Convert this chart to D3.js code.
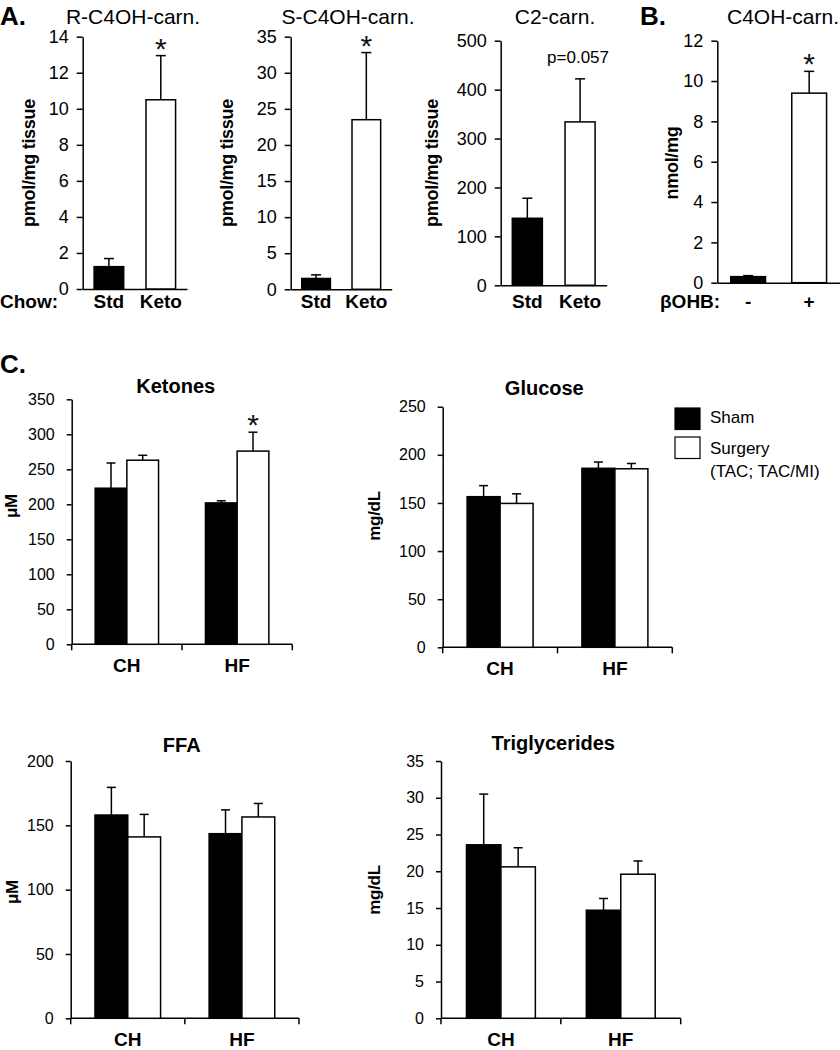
<!DOCTYPE html>
<html>
<head>
<meta charset="utf-8">
<script src="https://cdn.jsdelivr.net/npm/d3@7"></script>
<style>
  body { margin: 0; background: #fff; }
  svg { font-family: "Liberation Sans", Arial, sans-serif; }
  .axis path, .axis line { stroke: #000; stroke-width: 1.5; }
  .axis text { fill: #000; }
</style>
</head>
<body>
<svg id="chart" width="840" height="1050"></svg>
<script>
// ---- data ----
const chowGroups = ['Std', 'Keto']
const bohbGroups = ['-', '+']
const rC4OH = [1.24, 10.5]
const rC4OHErr = [0.45, 2.45]
const sC4OH = [1.5, 23.5]
const sC4OHErr = [0.5, 9.3]
const c2Carn = [137, 334]
const c2CarnErr = [41, 88]
const c4OH = [0.3, 9.4]
const c4OHErr = [0.05, 1.08]

const plasmaGroups = ['CH', 'HF']
const treatments = ['Sham', 'Surgery']
const ketonesSham = [223, 202]
const ketonesShamErr = [36, 3]
const ketonesSurgery = [263, 276]
const ketonesSurgeryErr = [7, 27]
const glucoseSham = [156.5, 186]
const glucoseShamErr = [11.5, 6.5]
const glucoseSurgery = [149.5, 185.5]
const glucoseSurgeryErr = [10, 5.5]
const ffaSham = [158, 143.5]
const ffaShamErr = [21.5, 18.5]
const ffaSurgery = [141, 156.5]
const ffaSurgeryErr = [17.5, 10.5]
const trigSham = [23.6, 14.7]
const trigShamErr = [6.9, 1.6]
const trigSurgery = [20.6, 19.6]
const trigSurgeryErr = [2.6, 1.8]

const svg = d3.select('#chart')
svg.append('rect').attr('width', 840).attr('height', 1050).attr('fill', '#fff')

const fill = d => d === 0 ? '#000' : '#fff'

function yAxisLabel(text, x, y, size) {
  svg.append('text')
    .attr('transform', `translate(${x},${y}) rotate(-90)`)
    .attr('text-anchor', 'middle')
    .style('font-size', size + 'px')
    .style('font-weight', 'bold')
    .style('letter-spacing', '-0.3px')
    .text(text)
}

function star(x, eTop) {
  // centred about 14px above the top of the error bar
  svg.append('text')
    .attr('x', x)
    .attr('y', eTop + 3)
    .attr('text-anchor', 'middle')
    .style('font-size', '30px')
    .style('fill', '#111')
    .text('*')
}

// ---- panels A and B: two bars each ----
function simplePanel(p) {
  const x = d3.scaleBand()
    .domain(p.groups)
    .range([p.left, p.right])
    .paddingInner(0.43)
    .paddingOuter(0.22)
  const y = d3.scaleLinear()
    .domain([0, p.max])
    .range([p.bottom, p.top])

  const yAxis = d3.axisLeft(y)
    .tickValues(d3.range(0, p.max + p.step / 2, p.step))
    .tickSizeInner(6)
    .tickSizeOuter(0)
    .tickPadding(8)
  const yg = svg.append('g')
    .attr('class', 'axis')
    .attr('transform', `translate(${p.left},0)`)
    .call(yAxis)
  yg.selectAll('text').style('font-size', '18px')

  svg.append('g')
    .attr('class', 'axis')
    .attr('transform', `translate(0,${p.bottom})`)
    .call(d3.axisBottom(x).tickSize(0).tickFormat(''))

  p.values.forEach((v, i) => {
    const g = p.groups[i]
    const cx = x(g) + x.bandwidth() / 2
    const eTop = y(v + p.errs[i])
    svg.append('line')
      .attr('x1', cx).attr('x2', cx)
      .attr('y1', y(v)).attr('y2', eTop)
      .attr('stroke', '#000').attr('stroke-width', 1.5)
    svg.append('line')
      .attr('x1', cx - 5).attr('x2', cx + 5)
      .attr('y1', eTop).attr('y2', eTop)
      .attr('stroke', '#000').attr('stroke-width', 1.5)
    svg.append('rect')
      .attr('x', x(g))
      .attr('y', y(v))
      .attr('width', x.bandwidth())
      .attr('height', p.bottom - y(v))
      .attr('fill', fill(i))
      .attr('stroke', '#000')
      .attr('stroke-width', 1.5)
    if (p.stars[i]) star(cx, eTop)
    if (p.notes && p.notes[i]) {
      svg.append('text')
        .attr('x', cx - 2)
        .attr('y', eTop - 16)
        .attr('text-anchor', 'middle')
        .style('font-size', '17px')
        .text(p.notes[i])
    }
    svg.append('text')
      .attr('x', cx)
      .attr('y', 308)
      .attr('text-anchor', 'middle')
      .style('font-size', '19px')
      .style('font-weight', 'bold')
      .text(g)
  })

  svg.append('text')
    .attr('x', p.titleX)
    .attr('y', 24)
    .attr('text-anchor', 'middle')
    .style('font-size', '21px')
    .text(p.title)
  yAxisLabel(p.yLabel, p.yLabelX, 163, 18)
}

simplePanel({ title: 'R-C4OH-carn.', titleX: 133, yLabel: 'pmol/mg tissue', yLabelX: 35,
  groups: chowGroups, values: rC4OH, errs: rC4OHErr, stars: [false, true],
  left: 82.7, right: 187, top: 36.7, bottom: 289, max: 14, step: 2 })
simplePanel({ title: 'S-C4OH-carn.', titleX: 348, yLabel: 'pmol/mg tissue', yLabelX: 233,
  groups: chowGroups, values: sC4OH, errs: sC4OHErr, stars: [false, true],
  left: 290.7, right: 391.7, top: 36.7, bottom: 289.3, max: 35, step: 5 })
simplePanel({ title: 'C2-carn.', titleX: 555, yLabel: 'pmol/mg tissue', yLabelX: 438,
  groups: chowGroups, values: c2Carn, errs: c2CarnErr, stars: [false, false], notes: [null, 'p=0.057'],
  left: 500.7, right: 606.7, top: 40.7, bottom: 285.3, max: 500, step: 100 })
simplePanel({ title: 'C4OH-carn.', titleX: 783, yLabel: 'nmol/mg', yLabelX: 678,
  groups: bohbGroups, values: c4OH, errs: c4OHErr, stars: [false, true],
  left: 717.3, right: 840, top: 40.7, bottom: 282.7, max: 12, step: 2 })

svg.append('text').attr('x', 0).attr('y', 308)
  .style('font-size', '19px').style('font-weight', 'bold').text('Chow:')
svg.append('text').attr('x', 660).attr('y', 308)
  .style('font-size', '19px').style('font-weight', 'bold').text('βOHB:')

// panel letters
;[['A.', 0, 25], ['B.', 640, 25], ['C.', 0, 373]].forEach(([t, x, y]) => {
  svg.append('text').attr('x', x).attr('y', y)
    .style('font-size', '26px').style('font-weight', 'bold').text(t)
})

// ---- panel C: grouped bars ----
function groupedPanel(p) {
  const x0 = d3.scaleBand()
    .domain(plasmaGroups)
    .range([p.left, p.right])
  const x1 = d3.scaleBand()
    .domain(treatments)
    .range([0, x0.bandwidth()])
    .paddingOuter(0.74)
  const y = d3.scaleLinear()
    .domain([0, p.max])
    .range([p.bottom, p.top])

  const yg = svg.append('g')
    .attr('class', 'axis')
    .attr('transform', `translate(${p.left},0)`)
    .call(d3.axisLeft(y)
      .tickValues(d3.range(0, p.max + p.step / 2, p.step))
      .tickSizeInner(5)
      .tickSizeOuter(0)
      .tickPadding(12))
  yg.selectAll('text').style('font-size', '16px')

  // x axis with ticks at the group boundaries
  const xg = svg.append('g').attr('class', 'axis')
  xg.append('line')
    .attr('x1', p.left).attr('x2', p.right)
    .attr('y1', p.bottom).attr('y2', p.bottom)
  plasmaGroups.map(g => x0(g)).concat([p.right]).forEach(tx => {
    xg.append('line')
      .attr('x1', tx).attr('x2', tx)
      .attr('y1', p.bottom).attr('y2', p.bottom + 6)
  })

  const series = [
    { values: p.sham, errs: p.shamErr },
    { values: p.surgery, errs: p.surgeryErr }
  ]
  plasmaGroups.forEach((g, gi) => {
    series.forEach((s, si) => {
      const v = s.values[gi]
      const bx = x0(g) + x1(treatments[si])
      const cx = bx + x1.bandwidth() / 2
      const eTop = y(v + s.errs[gi])
      svg.append('line')
        .attr('x1', cx).attr('x2', cx)
        .attr('y1', y(v)).attr('y2', eTop)
        .attr('stroke', '#000').attr('stroke-width', 1.5)
      svg.append('line')
        .attr('x1', cx - 4.5).attr('x2', cx + 4.5)
        .attr('y1', eTop).attr('y2', eTop)
        .attr('stroke', '#000').attr('stroke-width', 1.5)
      svg.append('rect')
        .attr('x', bx)
        .attr('y', y(v))
        .attr('width', x1.bandwidth())
        .attr('height', p.bottom - y(v))
        .attr('fill', fill(si))
        .attr('stroke', '#000')
        .attr('stroke-width', 1.5)
      if (p.stars && p.stars[si][gi]) star(cx, eTop)
    })
    svg.append('text')
      .attr('x', x0(g) + x0.bandwidth() / 2)
      .attr('y', p.bottom + 28)
      .attr('text-anchor', 'middle')
      .style('font-size', '19px')
      .style('font-weight', 'bold')
      .text(g)
  })

  svg.append('text')
    .attr('x', p.titleX)
    .attr('y', p.titleY)
    .attr('text-anchor', 'middle')
    .style('font-size', '20px')
    .style('font-weight', 'bold')
    .text(p.title)
  yAxisLabel(p.yLabel, p.yLabelX, p.yLabelY, 17)
}

groupedPanel({ title: 'Ketones', titleX: 175.7, titleY: 393, yLabel: 'μM', yLabelX: 17, yLabelY: 506,
  sham: ketonesSham, shamErr: ketonesShamErr, surgery: ketonesSurgery, surgeryErr: ketonesSurgeryErr,
  stars: [[false, false], [false, true]],
  left: 71.7, right: 292.3, top: 399.3, bottom: 644.3, max: 350, step: 50 })
groupedPanel({ title: 'Glucose', titleX: 544.3, titleY: 395, yLabel: 'mg/dL', yLabelX: 380, yLabelY: 516,
  sham: glucoseSham, shamErr: glucoseShamErr, surgery: glucoseSurgery, surgeryErr: glucoseSurgeryErr,
  left: 442.7, right: 672.3, top: 406.7, bottom: 647.3, max: 250, step: 50 })
groupedPanel({ title: 'FFA', titleX: 181.7, titleY: 751.7, yLabel: 'μM', yLabelX: 18, yLabelY: 892,
  sham: ffaSham, shamErr: ffaShamErr, surgery: ffaSurgery, surgeryErr: ffaSurgeryErr,
  left: 70.7, right: 299, top: 761, bottom: 1018.3, max: 200, step: 50 })
groupedPanel({ title: 'Triglycerides', titleX: 553.3, titleY: 750, yLabel: 'mg/dL', yLabelX: 380, yLabelY: 890,
  sham: trigSham, shamErr: trigShamErr, surgery: trigSurgery, surgeryErr: trigSurgeryErr,
  left: 441, right: 680.7, top: 761, bottom: 1018.3, max: 35, step: 5 })

// legend
const legend = svg.append('g').attr('class', 'legend')
const legendItems = [
  { lines: ['Sham'] },
  { lines: ['Surgery', '(TAC; TAC/MI)'] }
]
legendItems.forEach((item, i) => {
  legend.append('rect')
    .attr('x', 675)
    .attr('y', 408 + 29 * i)
    .attr('width', 25)
    .attr('height', 21.5)
    .attr('fill', fill(i))
    .attr('stroke', '#000')
    .attr('stroke-width', 1.2)
  item.lines.forEach((t, j) => {
    legend.append('text')
      .attr('x', 710)
      .attr('y', 423 + 31 * i + 23 * j)
      .style('font-size', '17px')
      .text(t)
  })
})
</script>
</body>
</html>
